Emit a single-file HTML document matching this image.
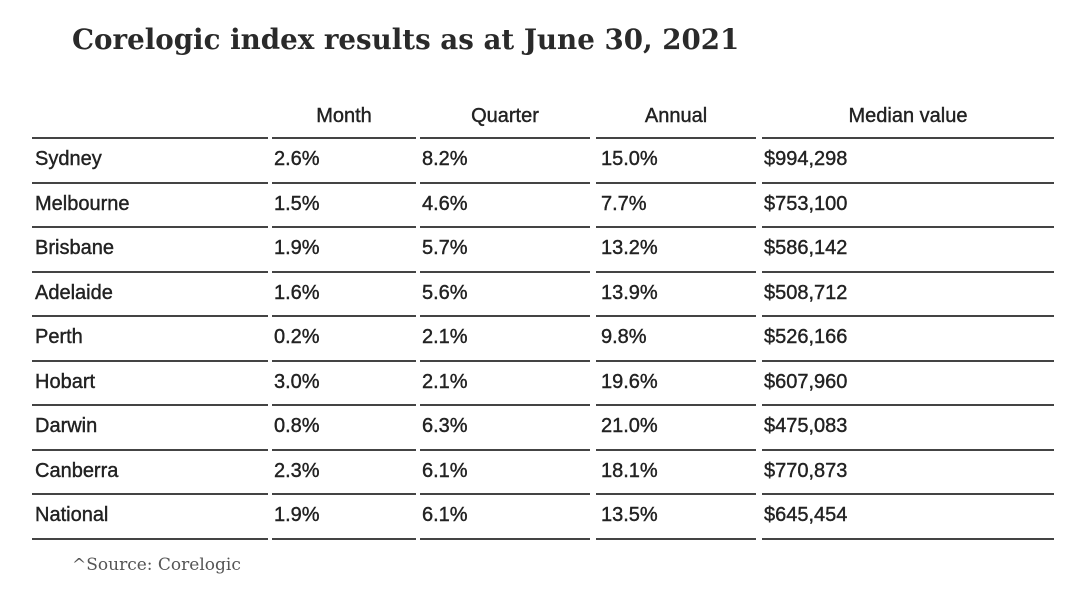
<!DOCTYPE html>
<html><head><meta charset="utf-8"><style>
body{margin:0;width:1080px;height:604px;background:#fff;overflow:hidden;position:relative;font-family:"Liberation Sans",sans-serif;color:#222}
.t{position:absolute;font-size:20px;white-space:nowrap;line-height:24px;-webkit-text-stroke:0.4px #222}
.h{text-align:center}
.ln{position:absolute;height:2px;background:#444}
</style></head><body>
<div style="position:absolute;left:72px;top:23px;font-family:'DejaVu Serif','Liberation Serif',serif;font-weight:bold;font-size:27.7px;color:#2a2a2a">Corelogic index results as at June 30, 2021</div>
<div id="tbl"></div>
<div style="position:absolute;left:72px;top:555px;font-family:'DejaVu Serif','Liberation Serif',serif;font-size:17px;color:#555">^Source: Corelogic</div>
<script>
const headers=["","Month","Quarter","Annual","Median value"];
const cities=["Sydney","Melbourne","Brisbane","Adelaide","Perth","Hobart","Darwin","Canberra","National"];
const month=["2.6%","1.5%","1.9%","1.6%","0.2%","3.0%","0.8%","2.3%","1.9%"];
const quarter=["8.2%","4.6%","5.7%","5.6%","2.1%","2.1%","6.3%","6.1%","6.1%"];
const annual=["15.0%","7.7%","13.2%","13.9%","9.8%","19.6%","21.0%","18.1%","13.5%"];
const median=["$994,298","$753,100","$586,142","$508,712","$526,166","$607,960","$475,083","$770,873","$645,454"];
const colL=[32,272,420,596,762],colR=[268,416,590,756,1054],textX=[35,274,422,601,764];
const tbl=document.getElementById('tbl');
const lineY0=137,step=44.5;
function add(txt,x,y,cls,name){const d=document.createElement('div');d.className='t '+cls;d.style.left=x+'px';d.style.top=y+'px';d.textContent=txt;


tbl.appendChild(d);return d;}
headers.forEach((h,i)=>{if(!h)return;const d=add(h,colL[i],104,'h','header-'+h.toLowerCase().replace(' ','-'));d.style.width=(colR[i]-colL[i])+'px';});
const cols=[cities,month,quarter,annual,median];
for(let r=0;r<=cities.length;r++){const y=lineY0+r*step;
for(let c=0;c<5;c++){const l=document.createElement('div');l.className='ln';l.style.left=colL[c]+'px';l.style.width=(colR[c]-colL[c])+'px';l.style.top=Math.round(y)+'px';


tbl.appendChild(l);}}
cities.forEach((city,r)=>{const y=Math.round(lineY0+r*step+10);
cols.forEach((arr,c)=>add(arr[r],textX[c],y,'','cell-'+city.toLowerCase()+'-'+c));});
</script>
</body></html>
